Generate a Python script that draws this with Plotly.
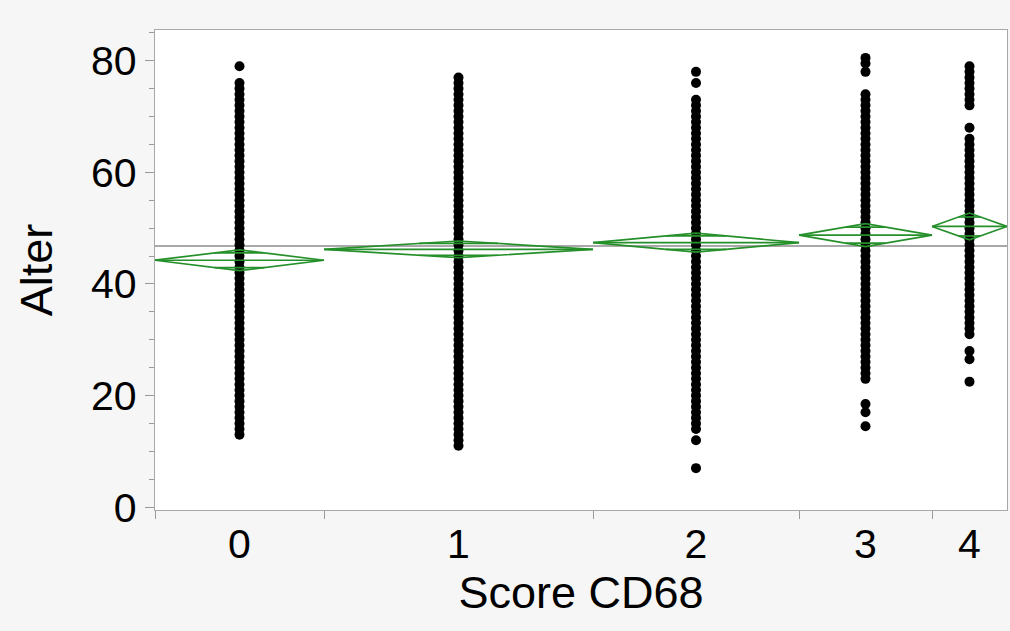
import plotly.graph_objects as go

# ---- data ----
categories = ["0", "1", "2", "3", "4"]
# relative group sizes (JMP draws group widths proportional to counts)
group_n = [169, 269, 206, 133, 75]
group_mean = [44.25, 46.2, 47.4, 48.75, 50.3]
group_ci = [1.85, 1.5, 1.7, 2.05, 2.4]   # 95% CI half-width (diamond half-height)
grand_mean = 46.8

age_0 = [13, 14, 15, 16, 17, 18, 19, 20, 21, 22, 23, 24, 25, 26, 27, 28, 29, 30,
         31, 32, 33, 34, 35, 36, 37, 38, 39, 40, 41, 42, 43, 44, 45, 46, 47, 48,
         49, 50, 51, 52, 53, 54, 55, 56, 57, 58, 59, 60, 61, 62, 63, 64, 65, 66,
         67, 68, 69, 70, 71, 72, 73, 74, 75, 76, 79]
age_1 = [11, 12, 13, 14, 15, 16, 17, 18, 19, 20, 21, 22, 23, 24, 25, 26, 27, 28,
         29, 30, 31, 32, 33, 34, 35, 36, 37, 38, 39, 40, 41, 42, 43, 44, 45, 46,
         47, 48, 49, 50, 51, 52, 53, 54, 55, 56, 57, 58, 59, 60, 61, 62, 63, 64,
         65, 66, 67, 68, 69, 70, 71, 72, 73, 74, 75, 76, 77]
age_2 = [7, 12, 14, 15, 16, 17, 18, 19, 20, 21, 22, 23, 24, 25, 26, 27, 28, 29,
         30, 31, 32, 33, 34, 35, 36, 37, 38, 39, 40, 41, 42, 43, 44, 45, 46, 47,
         48, 49, 50, 51, 52, 53, 54, 55, 56, 57, 58, 59, 60, 61, 62, 63, 64, 65,
         66, 67, 68, 69, 70, 71, 72, 73, 76, 78]
age_3 = [14.5, 17, 18.5, 23, 24, 25, 26, 27, 28, 29, 30, 31, 32, 33, 34, 35, 36,
         37, 38, 39, 40, 41, 42, 43, 44, 45, 46, 47, 48, 49, 50, 51, 52, 53, 54,
         55, 56, 57, 58, 59, 60, 61, 62, 63, 64, 65, 66, 67, 68, 69, 70, 71, 72,
         73, 74, 78, 79.5, 80.5]
age_4 = [22.5, 26.5, 28, 31, 32, 33, 34, 35, 36, 37, 38, 39, 40, 41, 42, 43, 44,
         45, 46, 47, 48, 49, 50, 51, 52, 53, 54, 55, 56, 57, 58, 59, 60, 61, 62,
         63, 64, 65, 66, 68, 72, 73, 74, 75, 76, 77, 78, 79]
ages = [age_0, age_1, age_2, age_3, age_4]

# ---- layout helpers derived from group sizes ----
bounds = [0]
for n in group_n:
    bounds.append(bounds[-1] + n)
centers = [(bounds[i] + bounds[i + 1]) / 2 for i in range(len(group_n))]
total = bounds[-1]

GREEN = "#25902a"
fig = go.Figure()

# grand mean line
fig.add_trace(go.Scatter(x=[0, total], y=[grand_mean, grand_mean], mode="lines",
                         line=dict(color="#8c8c8c", width=1.3), hoverinfo="skip",
                         showlegend=False))

# points
for i, a in enumerate(ages):
    fig.add_trace(go.Scatter(x=[centers[i]] * len(a), y=a, mode="markers",
                             marker=dict(color="black", size=10),
                             showlegend=False, name=categories[i]))

# means diamonds
for i in range(len(group_n)):
    x0, x1, xc = bounds[i], bounds[i + 1], centers[i]
    m, c = group_mean[i], group_ci[i]
    hw = (x1 - x0) / 2
    xs = [x0, xc, x1, xc, x0, None, x0, x1]
    ys = [m, m + c, m, m - c, m, None, m, m]
    k = 0.7071
    ov = c * k
    dx = hw * (1 - k)
    xs += [None, xc - dx, xc + dx, None, xc - dx, xc + dx]
    ys += [None, m + ov, m + ov, None, m - ov, m - ov]
    fig.add_trace(go.Scatter(x=xs, y=ys, mode="lines",
                             line=dict(color=GREEN, width=1.7),
                             hoverinfo="skip", showlegend=False))

# invisible trace for the label axis
fig.add_trace(go.Scatter(x=centers, y=group_mean, xaxis="x2", mode="markers",
                         marker=dict(opacity=0), hoverinfo="skip", showlegend=False))

FONT = "Liberation Sans, Arial, sans-serif"
fig.update_layout(
    width=1010, height=631,
    margin=dict(l=155, r=3, t=30, b=121),
    paper_bgcolor="#f6f6f6", plot_bgcolor="white",
    font=dict(family=FONT, color="black"),
    xaxis=dict(range=[0, total], tickmode="array", tickvals=bounds[:-1],
               showticklabels=False, ticks="outside", ticklen=8, tickcolor="#9a9a9a",
               showline=True, linecolor="#a8a8a8", linewidth=1.3, mirror=True,
               showgrid=False, zeroline=False, fixedrange=True),
    xaxis2=dict(overlaying="x", matches="x", range=[0, total], side="bottom",
                anchor="y", tickmode="array", tickvals=centers, ticktext=categories,
                ticks="", showline=False, showgrid=False, zeroline=False,
                ticklabelstandoff=6,
                tickfont=dict(size=41, family=FONT, color="black"),
                title=dict(text="Score CD68", font=dict(size=45, family=FONT), standoff=8)),
    yaxis=dict(range=[-0.5, 85.5], tickmode="array", tickvals=[0, 20, 40, 60, 80],
               ticks="outside", ticklen=9, tickcolor="#9a9a9a",
               minor=dict(dtick=5, tick0=0, ticks="outside", ticklen=5, tickcolor="#9a9a9a"),
               showline=True, linecolor="#a8a8a8", linewidth=1.3, mirror=True,
               showgrid=False, zeroline=False,
               tickfont=dict(size=41, family=FONT, color="black"),
               title=dict(text="Alter", font=dict(size=45, family=FONT), standoff=24)),
)

fig.write_html(
    "out.html",
    config={"displayModeBar": False},
    post_script="document.body.style.margin='0';document.body.style.background='#f6f6f6';",
)
